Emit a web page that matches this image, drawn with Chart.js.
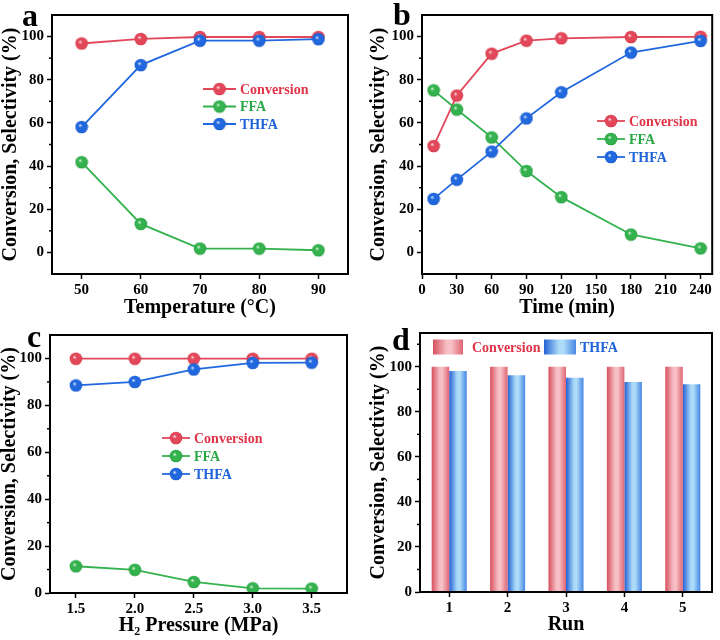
<!DOCTYPE html>
<html><head><meta charset="utf-8">
<script src="https://cdn.jsdelivr.net/npm/chart.js@4.4.1/dist/chart.umd.min.js"></script>
<style>
html,body{margin:0;padding:0;background:#fff;}
#wrap{position:relative;width:720px;height:640px;background:#fff;}
.p{position:absolute;width:360px;height:320px;}
</style></head><body>
<div id="wrap">
<div class="p" style="left:0;top:0"><canvas id="ca"></canvas></div>
<div class="p" style="left:360px;top:0"><canvas id="cb"></canvas></div>
<div class="p" style="left:0;top:320px"><canvas id="cc"></canvas></div>
<div class="p" style="left:360px;top:320px"><canvas id="cd"></canvas></div>
</div>
<script>
// ---------- data ----------
const tempC = [50, 60, 70, 80, 90];
const tempConversion = [96.8, 98.9, 99.8, 99.8, 99.8];
const tempFFA = [41.8, 13.2, 1.8, 1.8, 1.0];
const tempTHFA = [58.1, 86.8, 98.1, 98.1, 98.8];

const timeMin = [10, 30, 60, 90, 120, 180, 240];
const timeConversion = [49.3, 72.7, 92.1, 98.1, 99.2, 99.8, 99.9];
const timeFFA = [75.1, 66.2, 53.3, 37.7, 25.6, 8.3, 1.9];
const timeTHFA = [24.8, 33.7, 46.7, 62.1, 74.2, 92.6, 98.0];

const pressureMPa = [1.5, 2.0, 2.5, 3.0, 3.5];
const pressConversion = [99.9, 99.9, 99.9, 99.9, 99.9];
const pressFFA = [11.4, 9.9, 4.7, 2.0, 1.9];
const pressTHFA = [88.5, 90.0, 95.3, 98.1, 98.2];

const runLabels = ['1', '2', '3', '4', '5'];
const runConversion = [100, 100, 100, 100, 100];
const runTHFA = [98.1, 96.2, 95.1, 93.2, 92.2];

const seriesNames = ['Conversion', 'FFA', 'THFA'];
const yTitle = 'Conversion, Selectivity (%)';

// ---------- styles ----------
const FONT = "'Liberation Serif', 'Times New Roman', serif";
Chart.defaults.font.family = FONT;
Chart.defaults.font.weight = 'bold';
Chart.defaults.color = '#000';
Chart.defaults.animation = false;

const COL = {
  Conversion: {line: '#e2485a', text: '#e03448', dark: '#c8303f', hi: '#fde6e8'},
  FFA: {line: '#33b24e', text: '#2aa845', dark: '#1f9336', hi: '#e2f8e6'},
  THFA: {line: '#2168de', text: '#1e63d8', dark: '#1450c0', hi: '#e0ecfd'}
};
const GRAD = {
  Conversion: [[0, '#d6505d'], [0.45, '#f6bcc3'], [0.6, '#f7c2c8'], [1, '#df6673']],
  THFA: [[0, '#2260d4'], [0.45, '#a9d8f7'], [0.6, '#b0def9'], [1, '#4686e4']]
};

function sphere(name) {
  const r = 6.3;
  const c = document.createElement('canvas');
  const s = 14; c.width = s; c.height = s;
  const g = c.getContext('2d');
  const cx = s / 2, cy = s / 2;
  const grad = g.createRadialGradient(cx - 1.6, cy - 1.8, 0.2, cx, cy, r);
  grad.addColorStop(0, COL[name].hi);
  grad.addColorStop(0.3, COL[name].line);
  grad.addColorStop(0.85, COL[name].line);
  grad.addColorStop(1, COL[name].dark);
  g.fillStyle = grad;
  g.beginPath(); g.arc(cx, cy, r, 0, Math.PI * 2); g.fill();
  return c;
}
const SPH = {Conversion: sphere('Conversion'), FFA: sphere('FFA'), THFA: sphere('THFA')};

// ---------- plugins ----------
const frame = {
  id: 'frame',
  afterDraw(chart) {
    const {ctx, chartArea: a} = chart;
    ctx.save();
    ctx.strokeStyle = '#000'; ctx.lineWidth = 2;
    ctx.strokeRect(a.left, a.top, a.right - a.left, a.bottom - a.top);
    const ys = chart.scales.y;
    ctx.lineWidth = 1.5;
    for (let v = Math.ceil(ys.min / 10) * 10; v <= ys.max; v += 10) {
      if (v % 20 !== 0 && v > ys.min && v < ys.max) {
        const py = ys.getPixelForValue(v);
        ctx.beginPath(); ctx.moveTo(a.left - 3, py); ctx.lineTo(a.left, py); ctx.stroke();
      }
    }
    ctx.restore();
  }
};
const panelLetter = {
  id: 'panelLetter',
  afterDraw(chart, args, o) {
    const ctx = chart.ctx;
    ctx.save();
    ctx.font = 'bold 32px ' + FONT;
    ctx.fillStyle = '#000';
    ctx.textBaseline = 'alphabetic';
    ctx.fillText(o.text, o.x, o.y);
    ctx.restore();
  }
};
const lineLegend = {
  id: 'lineLegend',
  afterDatasetsDraw(chart, args, o) {
    const ctx = chart.ctx;
    chart.data.datasets.forEach((ds, i) => {
      const yy = o.y + i * o.gap;
      ctx.save();
      ctx.strokeStyle = ds.borderColor; ctx.lineWidth = 1.8;
      ctx.beginPath(); ctx.moveTo(o.x, yy); ctx.lineTo(o.x + o.len, yy); ctx.stroke();
      const img = SPH[ds.label];
      ctx.drawImage(img, o.x + o.len / 2 - img.width / 2, yy - img.height / 2);
      ctx.fillStyle = COL[ds.label].text;
      ctx.font = 'bold 14px ' + FONT;
      ctx.textBaseline = 'middle';
      ctx.fillText(ds.label, o.x + o.len + 4, yy + 1);
      ctx.restore();
    });
  }
};
const barGradient = {
  id: 'barGradient',
  beforeDatasetsDraw(chart) {
    const ctx = chart.ctx;
    chart.data.datasets.forEach((ds, i) => {
      const meta = chart.getDatasetMeta(i);
      meta.data.forEach(el => {
        const w = el.width, x0 = el.x - w / 2;
        const g = ctx.createLinearGradient(x0, 0, x0 + w, 0);
        GRAD[ds.label].forEach(([off, c]) => g.addColorStop(off, c));
        el.options = Object.assign({}, el.options, {backgroundColor: g});
      });
    });
  },
  afterDatasetsDraw(chart, args, o) {
    const ctx = chart.ctx;
    chart.data.datasets.forEach((ds, i) => {
      const it = o.items[i];
      ctx.save();
      const g = ctx.createLinearGradient(it.x, 0, it.x + it.w, 0);
      GRAD[ds.label].forEach(([off, c]) => g.addColorStop(off, c));
      ctx.fillStyle = g;
      ctx.fillRect(it.x, o.y - 7.5, it.w, 15);
      ctx.fillStyle = COL[ds.label].text;
      ctx.font = 'bold 14px ' + FONT;
      ctx.textBaseline = 'middle';
      ctx.fillText(ds.label, it.tx, o.y + 1);
      ctx.restore();
    });
  }
};

// ---------- helpers ----------
const isMajorY = v => v >= 0 && v <= 100 && Math.abs(v % 20) < 1e-9;
function yScale(min, max, width, titlePad) {
  return {
    type: 'linear', min, max,
    afterFit: s => { s.width = width; },
    ticks: {stepSize: 10, autoSkip: false, padding: 3, color: '#000', font: {size: 15, weight: 'bold'},
      callback: v => isMajorY(v) ? String(v) : ''},
    grid: {drawOnChartArea: false, drawTicks: true, tickLength: 5, tickWidth: 1.5,
      tickColor: c => (c.tick && isMajorY(c.tick.value)) ? '#000' : 'rgba(0,0,0,0)'},
    border: {display: true, color: '#000', width: 2},
    title: {display: true, text: yTitle, color: '#000', font: {size: 20, weight: 'bold', lineHeight: 1}, padding: {top: titlePad, bottom: 0}}
  };
}
function xLinear(min, max, step, height, title, titlePad, isMajor, fmt) {
  return {
    type: 'linear', min, max,
    afterFit: s => { s.height = height; },
    ticks: {stepSize: step, includeBounds: false, autoSkip: false, maxRotation: 0, minRotation: 0, padding: 2, color: '#000',
      font: {size: 15, weight: 'bold'}, callback: v => isMajor(v) ? fmt(v) : ''},
    grid: {drawOnChartArea: false, drawTicks: true, tickLength: 5, tickWidth: 1.5,
      tickColor: c => (c.tick && isMajor(c.tick.value)) ? '#000' : 'rgba(0,0,0,0)'},
    border: {display: true, color: '#000', width: 2},
    title: {display: true, text: title, color: '#000', font: {size: 20, weight: 'bold', lineHeight: 1}, padding: {top: 0, bottom: titlePad}}
  };
}
function lineDS(name, xs, ys) {
  return {
    label: name,
    data: xs.map((x, i) => ({x, y: ys[i]})),
    borderColor: COL[name].line,
    backgroundColor: COL[name].line,
    borderWidth: 1.8,
    pointStyle: SPH[name],
    pointRadius: 6,
    tension: 0,
    order: name === 'THFA' ? 0 : (name === 'FFA' ? 1 : 2)
  };
}
function lineChart(id, xs, series, xScale, yScaleCfg, padding, legend, letter) {
  return new Chart(document.getElementById(id), {
    type: 'line',
    data: {datasets: seriesNames.map((n, i) => lineDS(n, xs, series[i]))},
    options: {
      responsive: true, maintainAspectRatio: false,
      layout: {padding},
      plugins: {legend: {display: false}, tooltip: {enabled: false}, lineLegend: legend, panelLetter: letter},
      scales: {x: xScale, y: yScaleCfg}
    },
    plugins: [frame, lineLegend, panelLetter]
  });
}

// ---------- panel a ----------
lineChart('ca', tempC, [tempConversion, tempFFA, tempTHFA],
  xLinear(45, 95, 5, 46, 'Temperature (°C)', 2, v => v >= 50 && v <= 90 && v % 10 === 0, v => String(v)),
  yScale(-10, 110, 52, 1),
  {left: 0, right: 12, top: 15, bottom: 0},
  {x: 203, y: 89, gap: 17.5, len: 33},
  {text: 'a', x: 22, y: 26});

// ---------- panel b ----------
lineChart('cb', timeMin, [timeConversion, timeFFA, timeTHFA],
  xLinear(0, 250, 30, 46, 'Time (min)', 2, v => v >= 0 && v <= 240 && v % 30 === 0, v => String(v)),
  yScale(-10, 110, 62, 9),
  {left: 0, right: 3, top: 15, bottom: 0},
  {x: 237, y: 121, gap: 18, len: 28},
  {text: 'b', x: 33, y: 25});

// ---------- panel c ----------
lineChart('cc', pressureMPa, [pressConversion, pressFFA, pressTHFA],
  xLinear(1.28, 3.8, 0.5, 47, 'H₂ Pressure (MPa)', 4,
    v => v >= 1.49 && v <= 3.51 && Math.abs(v * 2 - Math.round(v * 2)) < 1e-6, v => v.toFixed(1)),
  yScale(0, 110, 50, 0),
  {left: 0, right: 13, top: 15, bottom: 0},
  {x: 162, y: 118, gap: 18, len: 28},
  {text: 'c', x: 27, y: 27});

// ---------- panel d ----------
new Chart(document.getElementById('cd'), {
  type: 'bar',
  data: {
    labels: runLabels,
    datasets: [
      {label: 'Conversion', data: runConversion, backgroundColor: '#e88a94', borderWidth: 0, categoryPercentage: 0.6, barPercentage: 1.0},
      {label: 'THFA', data: runTHFA, backgroundColor: '#6aa6ea', borderWidth: 0, categoryPercentage: 0.6, barPercentage: 1.0}
    ]
  },
  options: {
    responsive: true, maintainAspectRatio: false,
    layout: {padding: {left: 0, right: 8, top: 13, bottom: 0}},
    plugins: {
      legend: {display: false}, tooltip: {enabled: false},
      barGradient: {y: 27, items: [{x: 73, w: 30, tx: 112}, {x: 184, w: 32, tx: 220}]},
      panelLetter: {text: 'd', x: 32, y: 30}
    },
    scales: {
      x: {
        type: 'category', offset: true,
        afterFit: s => { s.height = 48; },
        ticks: {padding: 2, color: '#000', font: {size: 15, weight: 'bold'}, maxRotation: 0},
        grid: {offset: false, drawOnChartArea: false, drawTicks: true, tickLength: 5, tickWidth: 1.5, tickColor: '#000'},
        border: {display: true, color: '#000', width: 2},
        title: {display: true, text: 'Run', color: '#000', font: {size: 20, weight: 'bold', lineHeight: 1}, padding: {top: 0, bottom: 5}}
      },
      y: yScale(0, 115, 60, 9)
    }
  },
  plugins: [barGradient, frame, panelLetter]
});
</script>
</body></html>
